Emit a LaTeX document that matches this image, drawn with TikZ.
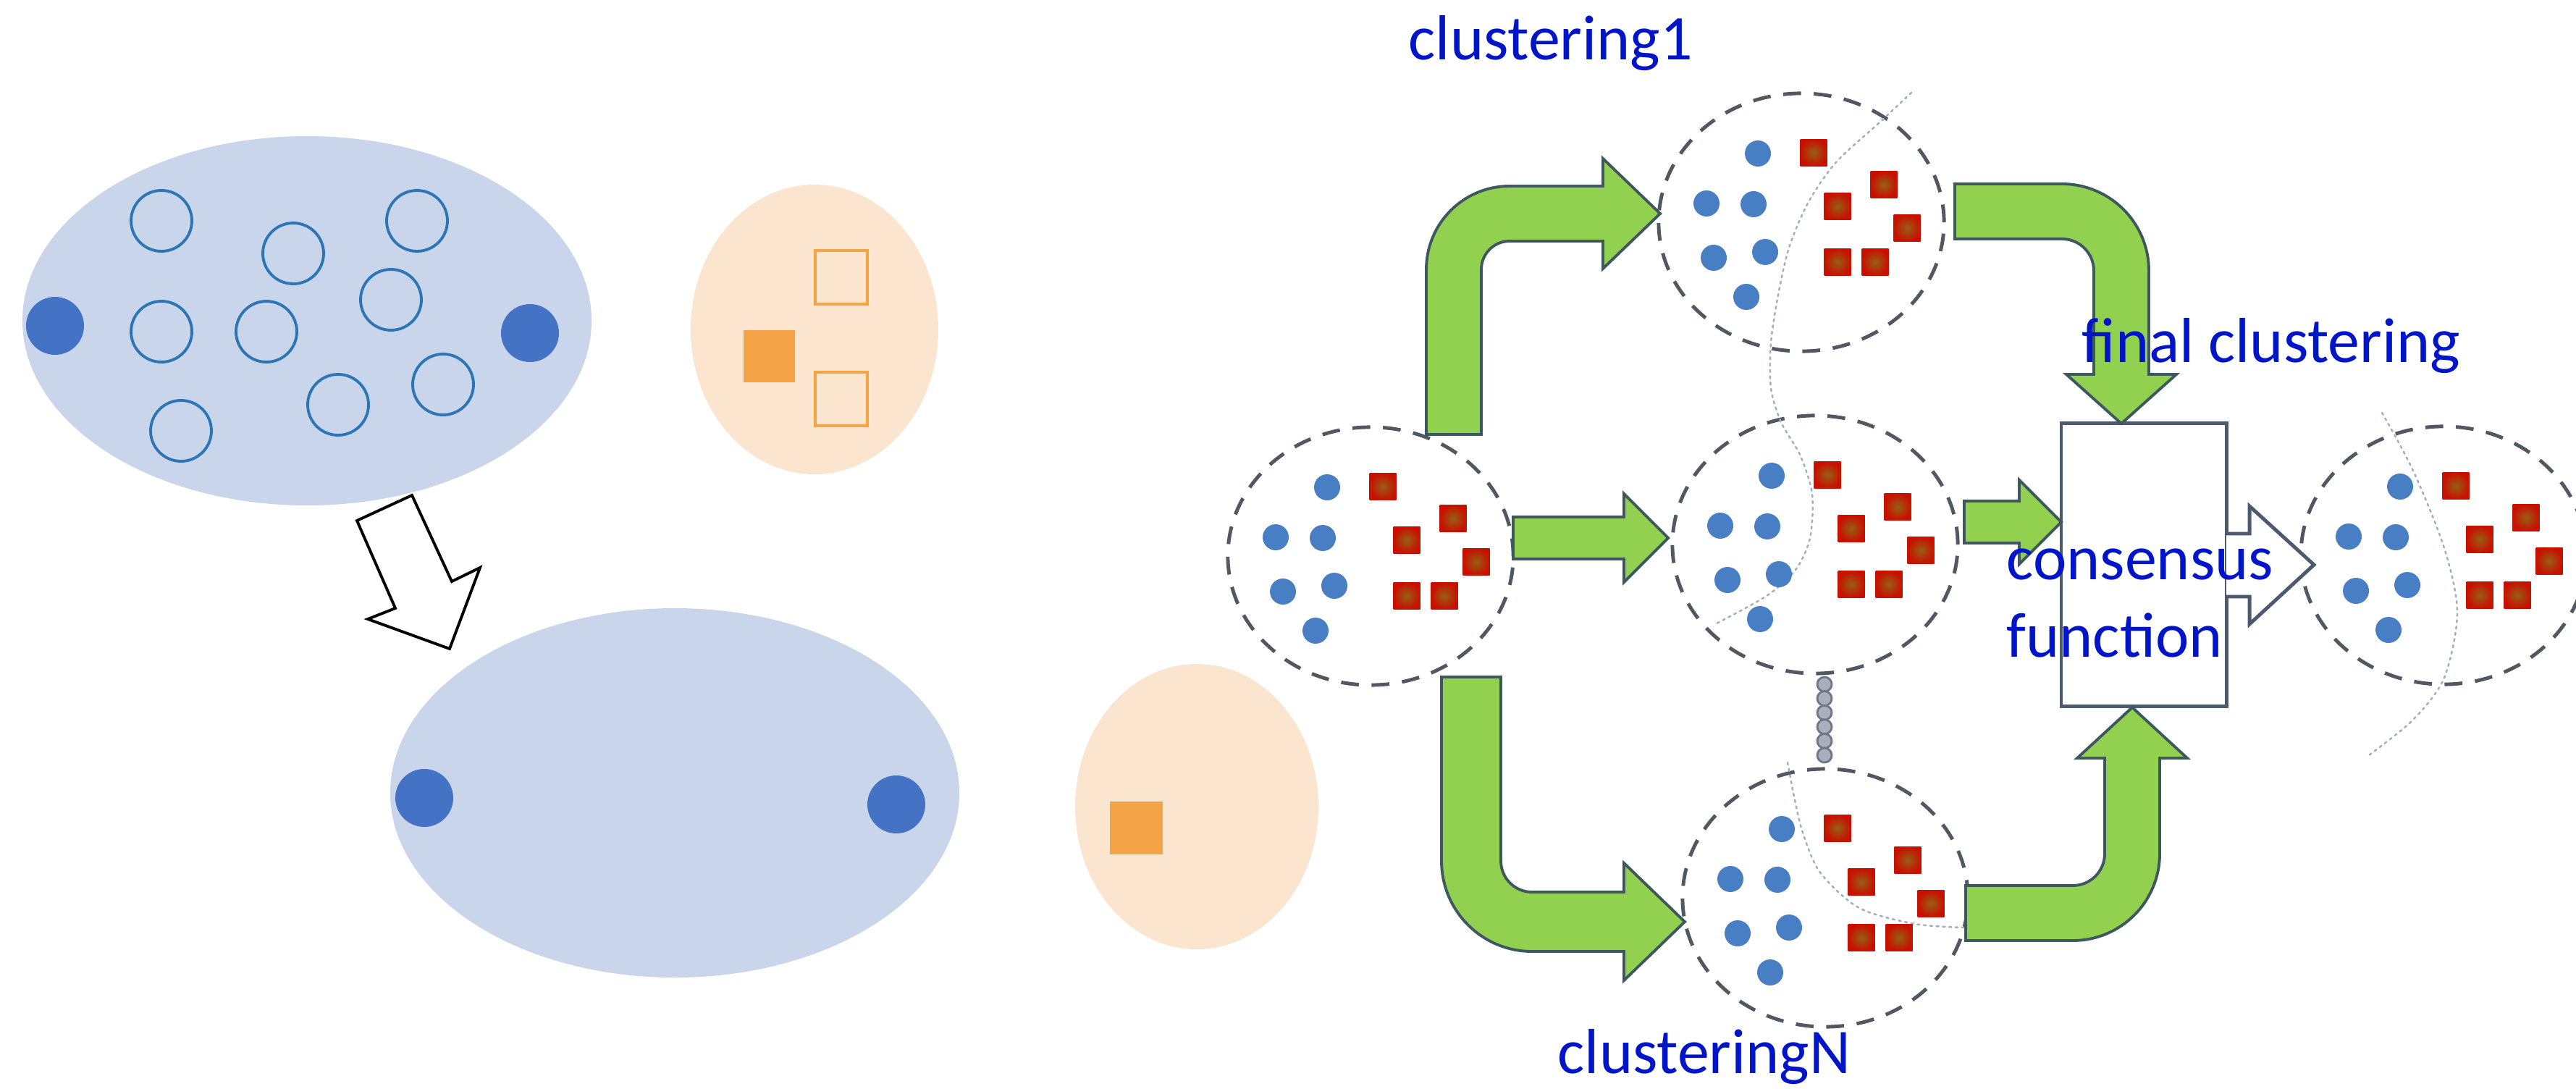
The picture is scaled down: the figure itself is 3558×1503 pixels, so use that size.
\documentclass[tikz,border=0pt]{standalone}
\usepackage{fontspec}
\setmainfont{Carlito}
\usetikzlibrary{shapes.geometric}

\definecolor{blobblue}{RGB}{200,213,234}
\definecolor{dotblue}{RGB}{68,114,196}
\definecolor{ringblue}{RGB}{46,117,182}
\definecolor{blobpeach}{RGB}{251,229,206}
\definecolor{sqorange}{RGB}{244,164,70}
\definecolor{ptblue}{RGB}{72,126,196}
\definecolor{sqred}{RGB}{200,16,0}
\definecolor{sqolive}{RGB}{150,95,20}
\definecolor{dashgrey}{RGB}{82,88,98}
\definecolor{splitgrey}{RGB}{165,172,188}
\definecolor{chainfill}{RGB}{170,175,192}
\definecolor{chainedge}{RGB}{112,118,136}
\definecolor{arrgreen}{RGB}{146,208,80}
\definecolor{arredge}{RGB}{62,88,96}
\definecolor{boxedge}{RGB}{75,90,110}
\definecolor{lblblue}{RGB}{0,20,200}

\newcommand{\clusterpts}[1]{%
  \begin{scope}[shift={(#1)}]
    \foreach \dx/\dy in {-60/-95,-131/-26,-66/-25,-121/49,-50/41,-76/103}
      \fill[ptblue] (\dx,\dy) circle (18);
    \foreach \dx/\dy in {17/-96,114/-52,50/-22,146/8,50/55,102/55}
      \shade[sqpt] (\dx-18.5,\dy-18.5) rectangle +(37,37);
  \end{scope}}

\begin{document}
\begin{tikzpicture}[x=0.01cm, y=-0.01cm,
  ring/.style={draw=ringblue, line width=1.1pt},
  hollowsq/.style={draw=sqorange, line width=0.9pt},
  sqpt/.style={inner color=sqolive, outer color=sqred},
  dcirc/.style={ellipse, draw=dashgrey, fill=white, line width=1.4pt, dash pattern=on 7pt off 5pt,
    minimum width=3.94cm, minimum height=3.56cm, inner sep=0pt},
  split/.style={draw=splitgrey, line width=0.7pt, dash pattern=on 0.9pt off 1.6pt, line cap=round},
  blockarr/.style={fill=arrgreen, draw=arredge, line width=1.1pt, line join=miter},
  hollowarr/.style={fill=white, line width=1.4pt, line join=miter},
  lbl/.style={text=lblblue, font=\fontsize{25}{30}\selectfont, inner sep=0pt, anchor=base west}
]
\useasboundingbox (0,0) rectangle (3558,1503);
\fill[white] (0,0) rectangle (3558,1503);

\fill[blobblue] (424,443) ellipse [x radius=393, y radius=255];
\fill[blobpeach] (1125,455) ellipse [x radius=171, y radius=200];
\fill[blobblue] (932,1095) ellipse [x radius=393, y radius=255];
\fill[blobpeach] (1653,1114) ellipse [x radius=168, y radius=197];

\foreach \p in {(223,305),(405,350),(576,305),(540,414),(223,458),(368,458),(612,531),(467,559),(250,595)}
  \draw[ring] \p circle (42);
\foreach \p in {(76,450),(732,460),(586,1102),(1238,1111)}
  \fill[dotblue] \p circle (40);
\draw[hollowsq] (1126,346) rectangle (1198,420);
\draw[hollowsq] (1126,514) rectangle (1198,588);
\fill[sqorange] (1027,456) rectangle (1098,528);
\fill[sqorange] (1533,1107) rectangle (1606,1180);

\filldraw[hollowarr, draw=black, line width=1.1pt] (569,684) -- (493,719) -- (546,840) -- (508,855) -- (621,896) -- (663,784) -- (624,803) -- cycle;

\node[dcirc] (in) at (1893,768) {};
\node[dcirc] (cA) at (2488,307) {};
\node[dcirc] (cB) at (2507,752) {};
\node[dcirc] (cN) at (2521,1240) {};
\node[dcirc] (fin) at (3375,767) {};

\draw[split] plot[smooth] coordinates {(2640,128) (2595,170) (2537,223) (2499,277) (2472,339) (2457,402) (2446,473) (2446,536) (2460,583) (2487,630) (2503,683) (2500,743) (2480,787) (2440,823) (2367,863)};
\draw[split] plot[smooth] coordinates {(2469,1053) (2478,1100) (2490,1150) (2514,1205) (2568,1254) (2645,1276) (2713,1281)};
\draw[split] plot[smooth] coordinates {(3290,570) (3333,650) (3376,757) (3394,846) (3376,936) (3333,994) (3272,1043)};

\foreach \k in {0,...,5}
  \filldraw[fill=chainfill, draw=chainedge, line width=0.8pt] (2520,945+19.6*\k) circle (10);

\clusterpts{in}
\clusterpts{cA}
\clusterpts{cB}
\clusterpts{cN}
\clusterpts{fin}

\node[draw=boxedge, fill=white, line width=1.4pt, minimum width=2.28cm, minimum height=3.91cm, inner sep=0pt] (cf) at (2961,780) {};

\draw[blockarr] (1970,600) -- (1970,372) arc[start angle=180, end angle=270, radius=115] -- (2214,257) -- (2214,219) -- (2293,295) -- (2214,371) -- (2214,333) -- (2085,333) arc[start angle=270, end angle=180, radius=39] -- (2046,600) -- cycle;
\draw[blockarr] (2090,714) -- (2243,714) -- (2243,682) -- (2304,743) -- (2243,804) -- (2243,772) -- (2090,772) -- cycle;
\draw[blockarr] (1991,935) -- (1991,1189) arc[start angle=180, end angle=90, radius=125] -- (2243,1314) -- (2243,1354) -- (2327,1273) -- (2243,1192) -- (2243,1232) -- (2116,1232) arc[start angle=90, end angle=180, radius=43] -- (2073,935) -- cycle;
\draw[blockarr] (2700,254) -- (2848,254) arc[start angle=270, end angle=360, radius=120] -- (2968,517) -- (3006,517) -- (2930,585) -- (2854,517) -- (2892,517) -- (2892,374) arc[start angle=0, end angle=-90, radius=44] -- (2700,330) -- cycle;
\draw[blockarr] (2713,692) -- (2789,692) -- (2789,663) -- (2847,721) -- (2789,779) -- (2789,750) -- (2713,750) -- cycle;
\draw[blockarr] (2715,1299) -- (2863,1299) arc[start angle=90, end angle=0, radius=120] -- (2983,1047) -- (3021,1047) -- (2945,977) -- (2869,1047) -- (2907,1047) -- (2907,1179) arc[start angle=0, end angle=90, radius=44] -- (2715,1223) -- cycle;
\filldraw[hollowarr, draw=boxedge] (3075,737) -- (3107,737) -- (3107,699) -- (3196,780) -- (3107,862) -- (3107,824) -- (3075,824);

\node[lbl] (t1) at (1945,83) {clustering1};
\node[lbl] (tfin) at (2875,500) {final clustering};
\node[lbl] (tcons) at (2771,800) {consensus};
\node[lbl] (tfun) at (2771,907) {function};
\node[lbl] (tN) at (2151,1482) {clusteringN};
\end{tikzpicture}
\end{document}
